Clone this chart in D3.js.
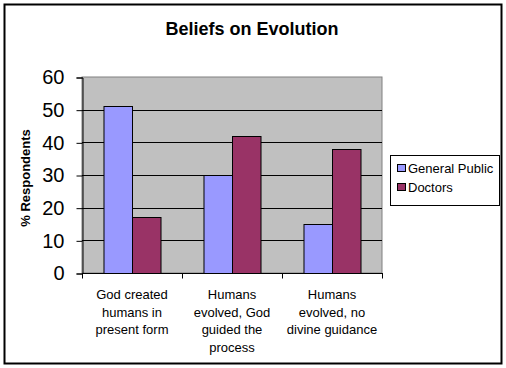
<!DOCTYPE html>
<html>
<head>
<meta charset="utf-8">
<script src="https://cdn.jsdelivr.net/npm/d3@7"></script>
<style>
  body { margin: 0; background: #fff; }
  svg { display: block; font-family: Arial, "Liberation Sans", sans-serif; }
</style>
</head>
<body>
<svg id="chart" width="506" height="368"></svg>
<script>
"use strict"

// data
let categories = [
    ["God created", "humans in", "present form"],
    ["Humans", "evolved, God", "guided the", "process"],
    ["Humans", "evolved, no", "divine guidance"]
]
let seriesNames = ["General Public", "Doctors"]
let generalPublic = [51, 30, 15]
let doctors = [17, 42, 38]
let yTicks = [0, 10, 20, 30, 40, 50, 60]
let colors = ["#9999ff", "#993366"]

let svg = d3.select("#chart")

// outer frame
svg.append("rect")
    .attr("x", 4.5).attr("y", 4.5)
    .attr("width", 497).attr("height", 359)
    .attr("fill", "#fff").attr("stroke", "#000").attr("stroke-width", 2)

svg.append("text")
    .attr("x", 252).attr("y", 35)
    .attr("text-anchor", "middle")
    .style("font-size", "18px").style("font-weight", "bold")
    .text("Beliefs on Evolution")

let plotLeft = 82, plotRight = 382, plotTop = 77, plotBottom = 273

let x0 = d3.scaleBand().domain(d3.range(categories.length)).range([plotLeft, plotRight])
let x1 = d3.scaleBand().domain(seriesNames).range([0, x0.bandwidth()])
    .paddingInner(0).paddingOuter(0.754)
let y = d3.scaleLinear().domain([0, 60]).range([plotBottom, plotTop])

// plot area
svg.append("rect")
    .attr("x", plotLeft).attr("y", plotTop)
    .attr("width", plotRight - plotLeft).attr("height", plotBottom - plotTop)
    .attr("fill", "#c0c0c0").attr("stroke", "#808080")

// gridlines
svg.append("g").selectAll("line")
    .data(yTicks.filter(d => d > 0 && d < 60))
    .join("line")
    .attr("x1", plotLeft).attr("x2", plotRight)
    .attr("y1", d => Math.round(y(d)) + 0.5).attr("y2", d => Math.round(y(d)) + 0.5)
    .attr("stroke", "#000")

// bars
let rows = categories.map((c, i) => [generalPublic[i], doctors[i]])
let groups = svg.append("g").selectAll("g")
    .data(rows)
    .join("g")
    .attr("transform", (d, i) => "translate(" + x0(i) + ",0)")

groups.selectAll("rect")
    .data(d => d.map((v, j) => ({ name: seriesNames[j], value: v, j: j })))
    .join("rect")
    .attr("x", d => x1(d.name) + 0.5)
    .attr("y", d => Math.round(y(d.value)) + 0.5)
    .attr("width", x1.bandwidth())
    .attr("height", d => Math.round(y(0)) - Math.round(y(d.value)))
    .attr("fill", d => colors[d.j])
    .attr("stroke", "#000")

// y axis
let yAxis = d3.axisLeft(y).tickValues(yTicks).tickSize(6).tickPadding(12)
let ya = svg.append("g")
    .attr("transform", "translate(" + (plotLeft + 0.5) + ",0.5)")
    .call(yAxis)
ya.select(".domain").attr("stroke", "#000")
ya.selectAll("text")
    .style("font-size", "20px")
    .style("font-family", "Arial, 'Liberation Sans', sans-serif")
    .attr("fill", "#000")

// x axis
let xa = svg.append("g")
    .attr("transform", "translate(0," + (plotBottom + 0.5) + ")")
xa.append("line")
    .attr("x1", plotLeft).attr("x2", plotRight + 1)
    .attr("stroke", "#000")
xa.selectAll("line.tick")
    .data(d3.range(categories.length + 1))
    .join("line")
    .attr("class", "tick")
    .attr("x1", i => plotLeft + i * x0.step() + 0.5)
    .attr("x2", i => plotLeft + i * x0.step() + 0.5)
    .attr("y1", 0).attr("y2", 5)
    .attr("stroke", "#000")

let labels = svg.append("g").selectAll("text")
    .data(categories)
    .join("text")
    .attr("x", (d, i) => x0(i) + x0.bandwidth() / 2)
    .attr("y", 299)
    .attr("text-anchor", "middle")
    .style("font-size", "13px")
labels.selectAll("tspan")
    .data(d => d)
    .join("tspan")
    .attr("x", function () { return d3.select(this.parentNode).attr("x") })
    .attr("dy", (d, i) => i == 0 ? 0 : 17.7)
    .text(d => d)

// y title
svg.append("text")
    .attr("transform", "translate(30,178) rotate(-90)")
    .attr("text-anchor", "middle")
    .style("font-size", "13px").style("font-weight", "bold")
    .text("% Respondents")

// legend
let legend = svg.append("g")
legend.append("rect")
    .attr("x", 390.5).attr("y", 155.5)
    .attr("width", 109).attr("height", 50)
    .attr("fill", "#fff").attr("stroke", "#000")
let items = legend.selectAll("g")
    .data(seriesNames)
    .join("g")
    .attr("transform", (d, i) => "translate(0," + (i * 19) + ")")
items.append("rect")
    .attr("x", 397.5).attr("y", 164.5)
    .attr("width", 8).attr("height", 7)
    .attr("fill", (d, i) => colors[i]).attr("stroke", "#000")
items.append("text")
    .attr("x", 408).attr("y", 172.5)
    .style("font-size", "13px")
    .text(d => d)
</script>
</body>
</html>
